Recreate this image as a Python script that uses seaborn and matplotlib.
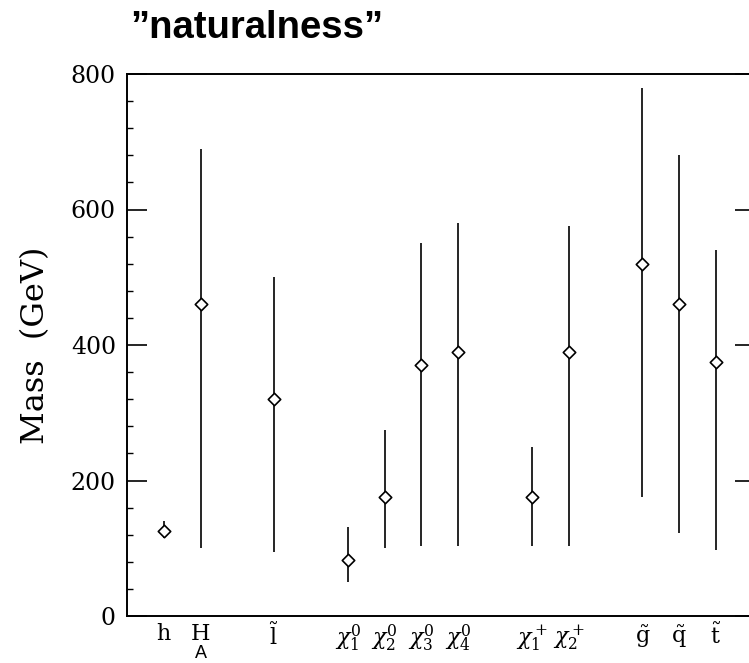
import matplotlib
matplotlib.use("Agg")
import matplotlib.pyplot as plt
import matplotlib.transforms as mtransforms
import seaborn as sns
import pandas as pd
from matplotlib.ticker import MultipleLocator

# ---- data ----
particles = ["h", "H", "l", "chi10", "chi20", "chi30", "chi40", "chi1p", "chi2p", "g", "q", "t"]
positions = [0, 1, 3, 5, 6, 7, 8, 10, 11, 13, 14, 15]
tick_labels = [r"h", r"H", r"$\tilde{\mathrm{l}}$",
               r"$\chi^0_1$", r"$\chi^0_2$", r"$\chi^0_3$", r"$\chi^0_4$",
               r"$\chi^+_1$", r"$\chi^+_2$",
               r"$\tilde{\mathrm{g}}$", r"$\tilde{\mathrm{q}}$", r"$\tilde{\mathrm{t}}$"]
central = [125, 460, 320, 82, 175, 370, 390, 175, 390, 520, 460, 375]
low = [115, 100, 95, 50, 100, 103, 103, 103, 103, 175, 122, 97]
high = [140, 690, 500, 132, 275, 550, 580, 250, 575, 780, 680, 540]

df = pd.DataFrame({"particle": particles, "x": positions, "mass": central,
                   "low": low, "high": high})

sns.set_style("white")
plt.rcParams["mathtext.fontset"] = "dejavuserif"
plt.rcParams["font.family"] = ["DejaVu Serif"]
plt.rcParams["text.color"] = "black"
plt.rcParams["axes.labelcolor"] = "black"
plt.rcParams["xtick.color"] = "black"
plt.rcParams["ytick.color"] = "black"

W, H = 749, 663
fig = plt.figure(figsize=(W / 100, H / 100), dpi=100)
ax = fig.add_axes([127 / W, 1 - 616 / H, (755 - 127) / W, (616 - 74) / H])

ax.vlines(df["x"], df["low"], df["high"], color="black", linewidth=1.2, zorder=2)
sns.scatterplot(data=df, x="x", y="mass", ax=ax, marker="D", s=40,
                facecolor="white", edgecolor="black", linewidth=1.2, zorder=3)

ax.set_xlim(-1.0, 16.06)
ax.set_ylim(0, 800)
ax.yaxis.set_major_locator(MultipleLocator(200))
ax.yaxis.set_minor_locator(MultipleLocator(40))
ax.set_xticks(positions)
ax.set_xticklabels(tick_labels, fontsize=16)
ax.tick_params(axis="x", length=0, pad=5)
ax.tick_params(axis="y", which="major", direction="in", length=14.4, width=1.2,
               labelsize=17, right=True, left=True, pad=8)
ax.tick_params(axis="y", which="minor", direction="in", length=4.5, width=1.0,
               right=True, left=True)
for s in ax.spines.values():
    s.set_linewidth(1.4)
    s.set_color("black")

ax.set_xlabel("")
ax.set_ylabel("Mass  (GeV)", fontsize=23, labelpad=14)

# subscript-like "A" under the H label
trans = mtransforms.blended_transform_factory(ax.transData, fig.transFigure)
ax.text(1, 1 - 653 / H, "A", transform=trans, ha="center", va="center",
        fontsize=13, family=["Liberation Sans", "DejaVu Sans"])

fig.text(130 / W, 1 - 28 / H, "\u201dnaturalness\u201d", ha="left", va="center",
         fontsize=27.5, fontweight="bold", family=["Liberation Sans", "DejaVu Sans"])

fig.savefig("out.png", dpi=100)
